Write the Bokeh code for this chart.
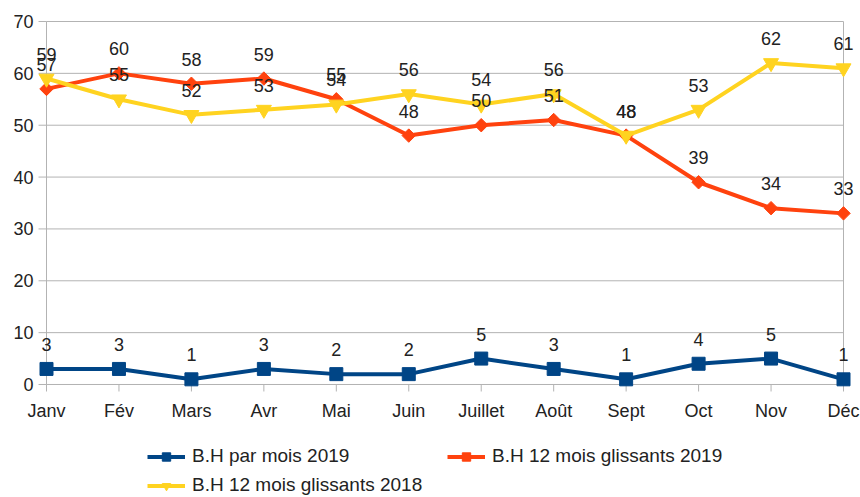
import math
from bokeh.plotting import figure
from bokeh.models import Range1d, LabelSet, ColumnDataSource
from bokeh.core.properties import value
from bokeh.embed import file_html
from bokeh.resources import INLINE

months = ["Janv", "Fév", "Mars", "Avr", "Mai", "Juin", "Juillet", "Août", "Sept", "Oct", "Nov", "Déc"]
bh_mois_2019 = [3, 3, 1, 3, 2, 2, 5, 3, 1, 4, 5, 1]
bh_12m_2019 = [57, 60, 58, 59, 55, 48, 50, 51, 48, 39, 34, 33]
bh_12m_2018 = [59, 55, 52, 53, 54, 56, 54, 56, 48, 53, 62, 61]
y_ticks = [0, 10, 20, 30, 40, 50, 60, 70]
names = ["B.H par mois 2019", "B.H 12 mois glissants 2019", "B.H 12 mois glissants 2018"]

FONT = "Liberation Sans"
TXT = "#222222"
GRID = "#b3b3b3"
BLUE, ORANGE, YELLOW = "#004586", "#ff420e", "#ffd320"

x = list(range(len(months)))

# whole figure is the frame; ranges chosen so that the plot area sits where the reference has it
p = figure(width=860, height=497,
           x_range=Range1d(-0.6349, 11.2346), y_range=Range1d(-21.791, 74.05),
           output_backend="svg", toolbar_location=None,
           x_axis_location=None, y_axis_location=None,
           min_border=0)
p.outline_line_color = None
p.xgrid.visible = False
p.ygrid.visible = False
p.background_fill_color = "white"
p.border_fill_color = "white"

# grid lines, frame lines and tick marks
p.segment(x0=x[0], x1=x[-1], y0=y_ticks, y1=y_ticks, line_color=GRID, line_width=1)
p.segment(x0=[x[0], x[-1]], x1=[x[0], x[-1]], y0=y_ticks[0], y1=y_ticks[-1], line_color=GRID, line_width=1)
p.segment(x0=x[0] - 0.11, x1=x[0], y0=y_ticks, y1=y_ticks, line_color=GRID, line_width=1)
p.segment(x0=x, x1=x, y0=y_ticks[0], y1=y_ticks[0] - 1.35, line_color=GRID, line_width=1)

# axis tick labels
ysrc = ColumnDataSource(dict(x=[x[0]] * len(y_ticks), y=y_ticks, t=[str(t) for t in y_ticks]))
p.add_layout(LabelSet(x="x", y="y", text="t", source=ysrc, x_offset=-13, text_align="right",
                      text_baseline="middle", text_font=value(FONT), text_font_size="18px",
                      text_color=TXT))
xsrc = ColumnDataSource(dict(x=x, y=[y_ticks[0]] * len(x), t=months))
p.add_layout(LabelSet(x="x", y="y", text="t", source=xsrc, y_offset=-33, text_align="center",
                      text_baseline="alphabetic", text_font=value(FONT), text_font_size="18px",
                      text_color=TXT))

series = [
    (bh_mois_2019, BLUE, dict(marker="square", size=13, angle=0)),
    (bh_12m_2019, ORANGE, dict(marker="square", size=9.5, angle=math.pi / 4)),
    (bh_12m_2018, YELLOW, dict(marker="inverted_triangle", size=15, angle=0)),
]
for (vals, col, mk), name in zip(series, names):
    p.line(x, vals, line_color=col, line_width=4, legend_label=name)
    p.scatter(x, vals, color=col, legend_label=name, **mk)

for (vals, col, mk) in series:
    src = ColumnDataSource(dict(x=x, y=vals, t=[str(v) for v in vals]))
    p.add_layout(LabelSet(x="x", y="y", text="t", source=src, y_offset=18, text_align="center",
                          text_baseline="alphabetic", text_font=value(FONT), text_font_size="18px",
                          text_color=TXT))

lg = p.legend[0]
lg.location = (147, 1)
lg.orientation = "horizontal"
lg.ncols = 2
lg.padding = 0
lg.margin = 0
lg.spacing = 7
lg.glyph_width = 38
lg.glyph_height = 21
lg.label_height = 21
lg.label_width = 248
lg.label_standoff = 7
lg.label_text_font = FONT
lg.label_text_font_size = "19px"
lg.label_text_color = TXT
lg.border_line_color = None
lg.background_fill_alpha = 0

open("out.html", "w").write(file_html(p, INLINE))
